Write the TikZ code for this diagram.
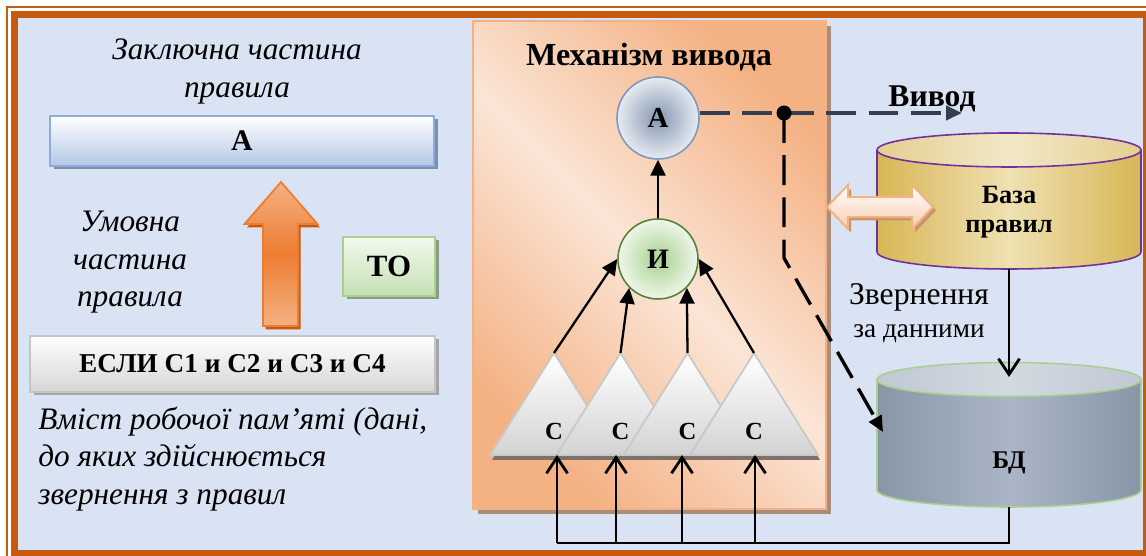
\documentclass[tikz,border=0pt]{standalone}
\usepackage{fontspec}
\setmainfont{Liberation Serif}
\usetikzlibrary{calc, arrows.meta, shadows}

\definecolor{frameOrange}{HTML}{C55A11}
\definecolor{bgBlue}{HTML}{DAE3F3}
\definecolor{panelDark}{HTML}{F4B183}
\definecolor{panelLight}{HTML}{FBE5D6}
\definecolor{panelShadow}{HTML}{A88C7C}
\definecolor{conclBottom}{HTML}{B4C7E7}
\definecolor{conclBorder}{HTML}{8FAADC}
\definecolor{conclShadow}{HTML}{7F8FAA}
\definecolor{toTop}{HTML}{F2F8EE}
\definecolor{toBottom}{HTML}{C5E0B4}
\definecolor{toBorder}{HTML}{A9D18E}
\definecolor{toShadow}{HTML}{8C9A88}
\definecolor{ifBottom}{HTML}{D6D6D6}
\definecolor{ifBorder}{HTML}{C4C4C4}
\definecolor{ifShadow}{HTML}{A6A6A6}
\definecolor{arrowOrange}{HTML}{ED7D31}
\definecolor{arrowLight}{HTML}{F4B183}
\definecolor{arrowShadow}{HTML}{C55A11}
\definecolor{goalInner}{HTML}{8497B0}
\definecolor{goalOuter}{HTML}{E6EBF2}
\definecolor{goalBorder}{HTML}{7F98BA}
\definecolor{andInner}{HTML}{A9D18E}
\definecolor{andOuter}{HTML}{EEF6E9}
\definecolor{andBorder}{HTML}{548235}
\definecolor{triBottom}{HTML}{D3D3D3}
\definecolor{triBorder}{HTML}{C8C8C8}
\definecolor{triShadow}{HTML}{7E716B}
\definecolor{rulesSide}{HTML}{D8B655}
\definecolor{rulesMid}{HTML}{EFE1B3}
\definecolor{rulesTopSide}{HTML}{E4CF90}
\definecolor{rulesTopMid}{HTML}{F2E8C8}
\definecolor{rulesBorder}{HTML}{7030A0}
\definecolor{dbSide}{HTML}{8896A8}
\definecolor{dbMid}{HTML}{AAB6C7}
\definecolor{dbTopSide}{HTML}{C0C8D3}
\definecolor{dbTopMid}{HTML}{D3D9E1}
\definecolor{dbBorder}{HTML}{A9D18E}
\definecolor{dashBlue}{HTML}{333F50}
\definecolor{dblFill}{HTML}{F8CBAD}
\definecolor{dblBorder}{HTML}{F4B183}
\definecolor{dblShadow}{HTML}{C8956F}

\begin{document}
\begin{tikzpicture}[>={Triangle[length=9pt, width=8.5pt]}, font=\bfseries]

    \useasboundingbox (0,0) rectangle (22.92,11.12);

    % --- Paramètres ---
    \def\triW{1.28}          % Demi-base des triangles
    \def\triB{2.02}          % Base des triangles
    \def\triT{4.06}          % Sommet des triangles
    \def\cx{20.18}           % Axe des cylindres
    \def\rx{2.64}            % Demi-largeur des cylindres
    \def\ry{0.34}            % Demi-hauteur des ellipses

    % --- Styles ---
    \tikzstyle{txt_it} = [font=\fontsize{17.8}{21.3}\selectfont\itshape, inner sep=0pt]
    \tikzstyle{box_concl} = [draw=conclBorder, line width=1.1pt, top color=white, bottom color=conclBottom, minimum width=7.68cm, minimum height=1cm, font=\fontsize{17}{20}\selectfont\bfseries, drop shadow={shadow xshift=0.07cm, shadow yshift=-0.07cm, fill=conclShadow, opacity=1}]
    \tikzstyle{box_to} = [draw=toBorder, line width=1.1pt, top color=toTop, bottom color=toBottom, minimum width=1.84cm, minimum height=1.18cm, font=\fontsize{17.6}{20}\selectfont\bfseries, drop shadow={shadow xshift=0.07cm, shadow yshift=-0.07cm, fill=toShadow, opacity=1}]
    \tikzstyle{box_if} = [draw=ifBorder, line width=1.1pt, top color=white, bottom color=ifBottom, minimum width=8.1cm, minimum height=1.12cm, font=\fontsize{15.5}{18}\selectfont\bfseries, drop shadow={shadow xshift=0.07cm, shadow yshift=-0.07cm, fill=ifShadow, opacity=1}]
    \tikzstyle{panel} = [draw=panelDark, line width=0.8pt, left color=panelDark, right color=panelDark, middle color=panelLight, shading angle=135, minimum width=7.06cm, minimum height=9.76cm, drop shadow={shadow xshift=0.1cm, shadow yshift=-0.1cm, fill=panelShadow, opacity=1}]
    \tikzstyle{circ_goal} = [circle, draw=goalBorder, line width=0.9pt, inner color=goalInner, outer color=goalOuter, minimum size=1.64cm, inner sep=0pt, font=\fontsize{16.5}{20}\selectfont\bfseries]
    \tikzstyle{circ_and} = [circle, draw=andBorder, line width=0.9pt, inner color=andInner, outer color=andOuter, minimum size=1.6cm, inner sep=0pt, font=\fontsize{16}{20}\selectfont\bfseries]
    \tikzstyle{tri} = [draw=triBorder, line width=1pt, top color=white, bottom color=triBottom, line join=round]
    \tikzstyle{up_arrow} = [draw=arrowOrange, line width=1pt, top color=arrowLight, bottom color=arrowLight, middle color=arrowOrange]
    \tikzstyle{dbl_arrow} = [draw=dblBorder, line width=1.1pt, top color=white, bottom color=dblFill]
    \tikzstyle{link} = [->, line width=1.3pt]
    \tikzstyle{feed} = [-{Straight Barb[length=9pt, width=12pt]}, line width=1.6pt]
    \tikzstyle{dash_out} = [-{Triangle[length=9pt, width=8pt]}, dashBlue, line width=1.9pt, dash pattern=on 17pt off 7pt]
    \tikzstyle{dash_db} = [-{Triangle[length=9pt, width=8pt]}, line width=1.9pt, dash pattern=on 17pt off 7pt]

    % --- Cadre ---
    \fill[white] (0,0) rectangle (22.92,11.12);
    \draw[frameOrange, line width=0.04cm] (0.14,-1) rectangle (24,10.98);
    \fill[bgBlue] (0.29,0.05) rectangle (22.93,10.83);
    \draw[frameOrange, line width=0.14cm] (0.29,0.05) rectangle (22.93,10.83);

    % --- Partie gauche : la règle ---
    \node[txt_it, align=center] (concl_lbl) at (4.74,9.69) {Заключна частина\\правила};
    \node[box_concl] (concl) at (4.84,8.30) {А};

    % Flèche orange
    \fill[arrowShadow, shift={(0.05,-0.07)}] (5.26,4.60) -- (5.26,6.64) -- (4.89,6.64) -- (5.62,7.48) -- (6.35,6.64) -- (5.96,6.64) -- (5.96,4.60) -- cycle;
    \draw[up_arrow] (5.26,4.60) -- (5.26,6.64) -- (4.89,6.64) -- (5.62,7.48) -- (6.35,6.64) -- (5.96,6.64) -- (5.96,4.60) -- cycle;

    \node[txt_it, align=center] (cond_lbl) at (2.60,5.87) {Умовна\\частина\\правила};
    \node[box_to] (then) at (7.78,5.79) {ТО};
    \node[box_if] (cond) at (4.65,3.84) {ЕСЛИ С1 и С2 и С3 и С4};
    \node[txt_it, align=left, anchor=west] (mem_lbl) at (0.76,1.94) {Вміст робочої пам’яті (дані,\\до яких здійснюється\\звернення з правил};

    % --- Mécanisme d'inférence ---
    \node[panel] (engine) at (12.99,5.82) {};
    \node[font=\fontsize{18.3}{20}\selectfont\bfseries, anchor=base] (engine_lbl) at (12.98,9.81) {Механізм вивода};

    \node[circ_goal] (goal) at (13.16,8.76) {А};
    \node[circ_and] (and) at (13.16,5.94) {И};
    \draw[link] (and) -- (goal);

    % Triangles des conditions
    \foreach \i/\x in {1/11.08, 2/12.41, 3/13.75, 4/15.08} {
        \fill[triShadow, shift={(0.04,-0.1)}] (\x-\triW,\triB) -- (\x,\triT) -- (\x+\triW,\triB) -- cycle;
        \draw[tri] (\x-\triW,\triB) -- (\x,\triT) -- (\x+\triW,\triB) -- cycle;
        \coordinate (top\i) at (\x,\triT);
        \node[font=\fontsize{14}{16}\selectfont\bfseries] (c\i) at (\x,2.50) {С};
    }

    \draw[link] (top1) -- (and.west);
    \draw[link] (top2) -- (and.south west);
    \draw[link] (top3) -- (and.south east);
    \draw[link] (top4) -- (and.east);

    % --- Base de règles ---
    \fill[left color=rulesSide, right color=rulesSide, middle color=rulesMid] (\cx-\rx,8.12) -- (\cx-\rx,6.08) arc [start angle=180, end angle=360, x radius=\rx, y radius=\ry] -- (\cx+\rx,8.12) -- cycle;
    \fill[left color=rulesTopSide, right color=rulesTopSide, middle color=rulesTopMid] (\cx,8.12) ellipse [x radius=\rx, y radius=\ry];
    \draw[rulesBorder, line width=0.9pt] (\cx-\rx,8.12) -- (\cx-\rx,6.08) arc [start angle=180, end angle=360, x radius=\rx, y radius=\ry] -- (\cx+\rx,8.12);
    \draw[rulesBorder, line width=0.9pt] (\cx,8.12) ellipse [x radius=\rx, y radius=\ry];
    \node[font=\fontsize{15}{16.5}\selectfont\bfseries, align=center] (rules) at (\cx,6.88) {База\\правил};

    % --- Base de données ---
    \fill[left color=dbSide, right color=dbSide, middle color=dbMid] (\cx-\rx,3.53) -- (\cx-\rx,1.32) arc [start angle=180, end angle=360, x radius=\rx, y radius=\ry] -- (\cx+\rx,3.53) -- cycle;
    \fill[left color=dbTopSide, right color=dbTopSide, middle color=dbTopMid] (\cx,3.53) ellipse [x radius=\rx, y radius=\ry];
    \draw[dbBorder, line width=0.9pt] (\cx-\rx,3.53) -- (\cx-\rx,1.32) arc [start angle=180, end angle=360, x radius=\rx, y radius=\ry] -- (\cx+\rx,3.53);
    \draw[dbBorder, line width=0.9pt] (\cx,3.53) ellipse [x radius=\rx, y radius=\ry];
    \node[font=\fontsize{14.5}{16}\selectfont\bfseries] (db) at (\cx,1.86) {БД};

    % Double flèche
    \fill[dblShadow, shift={(0.06,-0.07)}] (16.54,6.98) -- (16.96,7.42) -- (16.96,7.18) -- (18.24,7.18) -- (18.24,7.42) -- (18.66,6.98) -- (18.24,6.54) -- (18.24,6.78) -- (16.96,6.78) -- (16.96,6.54) -- cycle;
    \draw[dbl_arrow] (16.54,6.98) -- (16.96,7.42) -- (16.96,7.18) -- (18.24,7.18) -- (18.24,7.42) -- (18.66,6.98) -- (18.24,6.54) -- (18.24,6.78) -- (16.96,6.78) -- (16.96,6.54) -- cycle;

    % --- Connexions ---
    \coordinate (fork) at (15.68,8.86);
    \coordinate (out) at (19.24,8.86);
    \coordinate (bend) at (15.68,5.96);
    \coordinate (db_in) at (17.66,2.48);
    \coordinate (rules_bot) at (\cx,5.74);
    \coordinate (db_top) at (\cx,3.58);
    \coordinate (db_bot) at (\cx,0.98);
    \coordinate (bus) at (\cx,0.26);
    \coordinate (in1) at (11.14,\triB);
    \coordinate (in2) at (12.32,\triB);
    \coordinate (in3) at (13.64,\triB);
    \coordinate (in4) at (15.10,\triB);

    \draw[dash_out] (goal.east |- fork) -- (out);
    \draw[dash_db] (fork) -- (bend) -- (db_in);
    \fill (fork) circle (0.15);
    \node[font=\fontsize{18}{20}\selectfont\bfseries, anchor=base] (out_lbl) at (18.64,8.98) {Вивод};

    \draw[feed] (rules_bot) -- (db_top);
    \node[font=\fontsize{18}{20}\selectfont, anchor=base] (query_lbl) at (18.38,5.02) {Звернення};
    \node[font=\fontsize{15.5}{18}\selectfont, anchor=base] (query_lbl2) at (18.38,4.36) {за данними};

    \draw[line width=1.6pt] (db_bot) -- (bus) -- (bus -| in1);
    \foreach \i in {1,...,4}
        \draw[feed] (bus -| in\i) -- (in\i);

\end{tikzpicture}
\end{document}
